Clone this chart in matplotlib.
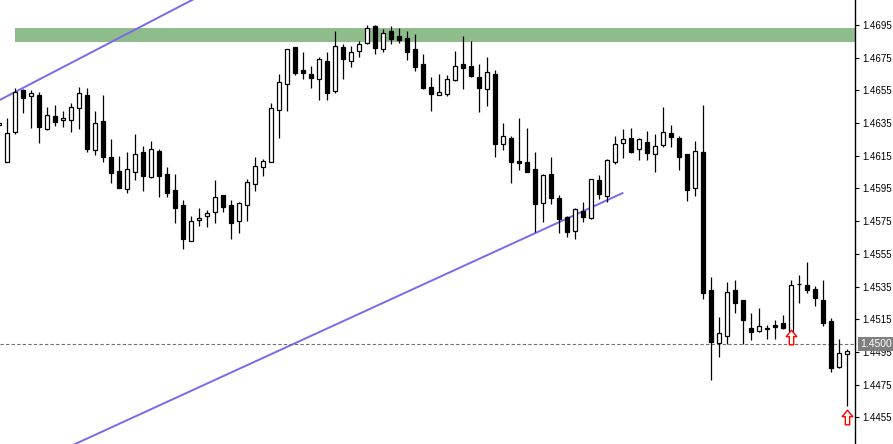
import numpy as np
import matplotlib
matplotlib.use("Agg")
import matplotlib.pyplot as plt
from matplotlib.path import Path
from matplotlib.markers import MarkerStyle
from matplotlib.transforms import blended_transform_factory

# ---- data (bar index, OHLC) ----
bar_index = list(range(-1, 106))
opens = [1.46336, 1.46110, 1.46297, 1.46552, 1.46517, 1.46522, 1.46314, 1.46393, 1.46367, 1.46367,
         1.46440, 1.46522, 1.46187, 1.46363, 1.46141, 1.46057, 1.45945, 1.46053, 1.46173, 1.46018,
         1.46179, 1.46039, 1.45941, 1.45849, 1.45629, 1.45755, 1.45780, 1.45804, 1.45908, 1.45847,
         1.45749, 1.45847, 1.45975, 1.46079, 1.46110, 1.46428, 1.46587, 1.46814, 1.46673, 1.46648,
         1.46618, 1.46728, 1.46549, 1.46814, 1.46728, 1.46789, 1.46838, 1.46944, 1.46801, 1.46911,
         1.46881, 1.46869, 1.46801, 1.46711, 1.46569, 1.46520, 1.46530, 1.46612, 1.46710, 1.46697,
         1.46630, 1.46560, 1.46650, 1.46220, 1.46259, 1.46116, 1.46110, 1.46069, 1.45863, 1.46038,
         1.45892, 1.45777, 1.45692, 1.45814, 1.45767, 1.46000, 1.45906, 1.46114, 1.46226, 1.46257,
         1.46190, 1.46237, 1.46158, 1.46219, 1.46289, 1.46259, 1.46161, 1.45955, 1.46173, 1.45327,
         1.45002, 1.45049, 1.45327, 1.45266, 1.45095, 1.45080, 1.45093, 1.45115, 1.45125, 1.45081,
         1.45364, 1.45359, 1.45338, 1.45268, 1.45139, 1.44860, 1.44935]
highs = [1.46357, 1.46379, 1.46563, 1.46557, 1.46552, 1.46538, 1.46450, 1.46461, 1.46424, 1.46475,
         1.46569, 1.46563, 1.46424, 1.46522, 1.46253, 1.46149, 1.46171, 1.46283, 1.46210, 1.46240,
         1.46191, 1.46083, 1.46040, 1.45879, 1.45782, 1.45829, 1.45818, 1.46002, 1.45910, 1.45879,
         1.45865, 1.46008, 1.46141, 1.46130, 1.46475, 1.46650, 1.46803, 1.46815, 1.46783, 1.46699,
         1.46752, 1.46783, 1.46913, 1.46834, 1.46822, 1.46852, 1.46950, 1.46950, 1.46926, 1.46944,
         1.46930, 1.46913, 1.46895, 1.46773, 1.46630, 1.46650, 1.46644, 1.46789, 1.46883, 1.46852,
         1.46711, 1.46752, 1.46673, 1.46350, 1.46269, 1.46381, 1.46320, 1.46173, 1.46038, 1.46142,
         1.45910, 1.45782, 1.45829, 1.45867, 1.46006, 1.46032, 1.46128, 1.46271, 1.46314, 1.46320,
         1.46257, 1.46302, 1.46281, 1.46447, 1.46338, 1.46271, 1.46163, 1.46240, 1.46461, 1.45407,
         1.45162, 1.45376, 1.45390, 1.45268, 1.45188, 1.45219, 1.45115, 1.45145, 1.45179, 1.45390,
         1.45421, 1.45500, 1.45353, 1.45390, 1.45156, 1.45027, 1.44968]
lows = [1.46332, 1.46109, 1.46281, 1.46410, 1.46318, 1.46226, 1.46308, 1.46332, 1.46328, 1.46297,
        1.46314, 1.46175, 1.46155, 1.46114, 1.45985, 1.45950, 1.45924, 1.46002, 1.45936, 1.46017,
        1.45895, 1.45895, 1.45737, 1.45581, 1.45627, 1.45722, 1.45716, 1.45737, 1.45804, 1.45639,
        1.45676, 1.45753, 1.45936, 1.46028, 1.46109, 1.46257, 1.46427, 1.46647, 1.46617, 1.46562,
        1.46489, 1.46489, 1.46537, 1.46618, 1.46696, 1.46756, 1.46832, 1.46770, 1.46787, 1.46832,
        1.46838, 1.46736, 1.46670, 1.46560, 1.46426, 1.46519, 1.46517, 1.46610, 1.46560, 1.46630,
        1.46420, 1.46456, 1.46144, 1.46187, 1.45985, 1.46063, 1.46051, 1.45684, 1.45747, 1.45857,
        1.45676, 1.45655, 1.45638, 1.45747, 1.45766, 1.45886, 1.45865, 1.46098, 1.46138, 1.46169,
        1.46124, 1.46124, 1.46051, 1.46205, 1.46205, 1.46063, 1.45875, 1.45904, 1.45274, 1.44778,
        1.44921, 1.45000, 1.45190, 1.45000, 1.45026, 1.45074, 1.45029, 1.45029, 1.45093, 1.45080,
        1.45251, 1.45312, 1.45233, 1.45109, 1.44829, 1.44853, 1.44619]
closes = [1.46349, 1.46287, 1.46538, 1.46505, 1.46532, 1.46328, 1.46399, 1.46358, 1.46381, 1.46447,
          1.46532, 1.46193, 1.46349, 1.46144, 1.46046, 1.45955, 1.46067, 1.46161, 1.46028, 1.46190,
          1.46028, 1.45924, 1.45832, 1.45638, 1.45751, 1.45767, 1.45798, 1.45896, 1.45835, 1.45737,
          1.45859, 1.45988, 1.46086, 1.46116, 1.46440, 1.46599, 1.46801, 1.46659, 1.46658, 1.46628,
          1.46740, 1.46536, 1.46820, 1.46740, 1.46783, 1.46832, 1.46930, 1.46811, 1.46899, 1.46866,
          1.46860, 1.46787, 1.46695, 1.46562, 1.46530, 1.46538, 1.46618, 1.46697, 1.46689, 1.46640,
          1.46566, 1.46661, 1.46224, 1.46269, 1.46114, 1.46108, 1.46053, 1.45857, 1.46032, 1.45893,
          1.45763, 1.45685, 1.45827, 1.45777, 1.46005, 1.45918, 1.46127, 1.46220, 1.46251, 1.46173,
          1.46251, 1.46169, 1.46210, 1.46298, 1.46267, 1.46144, 1.45941, 1.46177, 1.45313, 1.45013,
          1.45064, 1.45315, 1.45251, 1.45145, 1.45074, 1.45107, 1.45095, 1.45102, 1.45095, 1.45358,
          1.45366, 1.45331, 1.45278, 1.45126, 1.44853, 1.44942, 1.44954]

# objects drawn on the chart
zone_start = 1
zone_low, zone_high = 1.46846, 1.46932
trend1_x = [-1, 24]
trend1_y = [1.46490, 1.47126]
trend2_x = [9.1, 77.0]
trend2_y = [1.44401, 1.45924]
hline_price = 1.4500
arrow_idx = [98, 105]
arrow_price = [1.45044, 1.44552]
tick_prices = [1.4455, 1.4475, 1.4495, 1.4515, 1.4535, 1.4555, 1.4575, 1.4595,
               1.4615, 1.4635, 1.4655, 1.4675, 1.4695]

# ---- figure ----
W, H = 893, 444
fig = plt.figure(figsize=(W / 100, H / 100), dpi=100)
fig.patch.set_facecolor("white")
ax = fig.add_axes([0, 0, 855 / W, 1])
ax.set_facecolor("white")
ax.set_xlim(-0.917, 105.96)
ax.set_ylim(1.44387, 1.47103)

# support/resistance zone
ax.axhspan(zone_low, zone_high, xmin=(zone_start + 0.917) / (105.96 + 0.917), xmax=1,
           color="#8FBC8B", lw=0, zorder=1)

# trend lines (extended rays)
def ext(xs, ys, x0, x1):
    s = (ys[1] - ys[0]) / (xs[1] - xs[0])
    return [x0, x1], [ys[0] + s * (x0 - xs[0]), ys[0] + s * (x1 - xs[0])]

lx, ly = ext(trend1_x, trend1_y, -2, 40)
ax.plot(lx, ly, color="#7B68EE", lw=1.4, zorder=2, solid_capstyle="butt")
lx, ly = ext(trend2_x, trend2_y, 7.0, trend2_x[1])
ax.plot(lx, ly, color="#7B68EE", lw=1.4, zorder=2, solid_capstyle="butt")

# dashed horizontal line
ax.axhline(hline_price, color="#707070", lw=0.8, ls=(0, (3, 2)), zorder=2)

# candles
x = np.array(bar_index)
o = np.array(opens); h = np.array(highs); l = np.array(lows); c = np.array(closes)
ax.vlines(x, l, h, color="black", lw=0.9, zorder=3)
up = c >= o
bottoms = np.minimum(o, c)
heights = np.abs(c - o)
ax.bar(x[up], heights[up], bottom=bottoms[up], width=0.5, facecolor="white",
       edgecolor="black", linewidth=0.9, zorder=4)
ax.bar(x[~up], heights[~up], bottom=bottoms[~up], width=0.5, facecolor="black",
       edgecolor="black", linewidth=0.9, zorder=4)

# buy arrows
verts = [(0, 1), (0.72, 0.12), (0.3, 0.12), (0.3, -1), (-0.3, -1), (-0.3, 0.12),
         (-0.72, 0.12), (0, 1)]
arrow = MarkerStyle(Path(verts, closed=True))
ax.plot(arrow_idx, arrow_price, ls="none", marker=arrow, markersize=10.5,
        markerfacecolor="#fffaf5", markeredgecolor="#ff0000", markeredgewidth=1.0, zorder=5)

# axes styling
for side in ["left", "top", "bottom"]:
    ax.spines[side].set_visible(False)
ax.spines["right"].set_color("black")
ax.spines["right"].set_linewidth(1.0)
ax.set_xticks([])
ax.yaxis.tick_right()
ax.set_yticks(tick_prices)
ax.set_yticklabels([f"{t:.4f}" for t in tick_prices])
ax.tick_params(axis="y", direction="out", length=3, width=0.8, pad=2,
               labelsize=7, colors="black")
for lab in ax.get_yticklabels():
    lab.set_family("Liberation Sans")

# current price label
tr = blended_transform_factory(ax.transAxes, ax.transData)
ax.text(1.0 + 5 / 855, hline_price, "1.4500", transform=tr, ha="left", va="center",
        fontsize=7.5, family="Liberation Sans", color="white", clip_on=False, zorder=10,
        bbox=dict(facecolor="#7f7f7f", edgecolor="none", boxstyle="square,pad=0.2"))

fig.savefig("out.png", dpi=100, facecolor="white")
